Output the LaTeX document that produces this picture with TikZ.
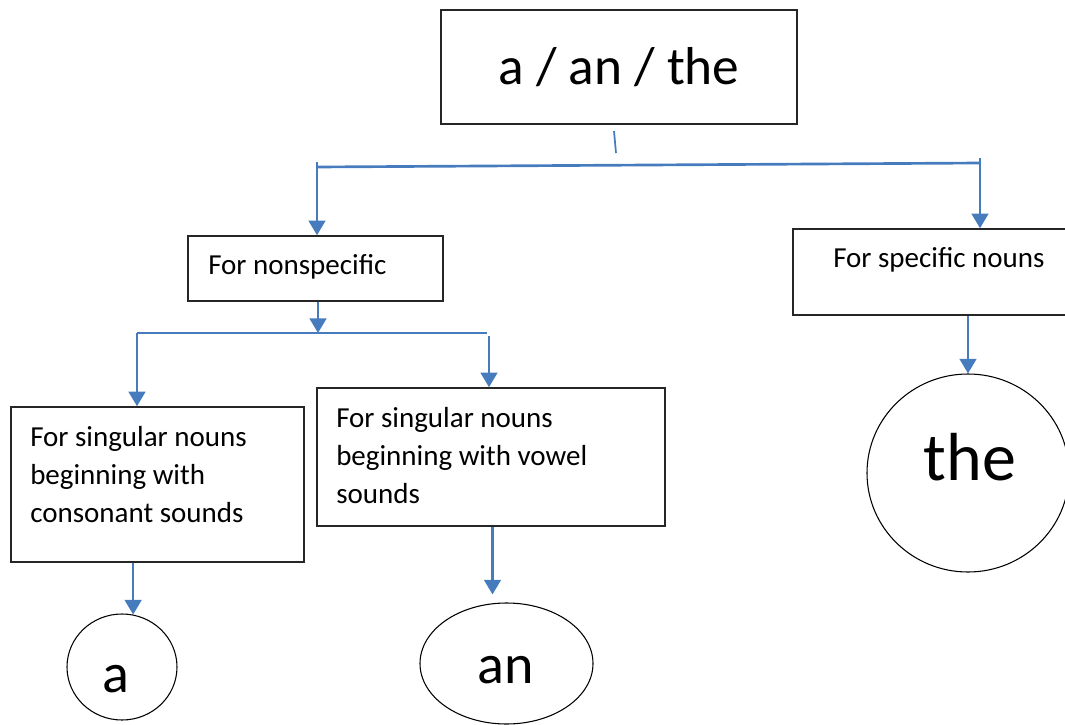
\documentclass[tikz,border=0pt]{standalone}
\usepackage{fontspec}
\setmainfont{Carlito}
\usetikzlibrary{arrows.meta,shapes.geometric,calc}
\definecolor{arrowblue}{RGB}{70,124,190}
\begin{document}
\begin{tikzpicture}[x=0.75pt,y=-0.75pt,
  box/.style={draw=black!85, line width=1.1pt, rectangle, inner sep=0pt},
  oval/.style={draw=black, line width=0.8pt, ellipse, inner sep=0pt},
  arr/.style={draw=arrowblue, line width=2pt, -{Triangle[width=12.5pt,length=11pt]}},
  ln/.style={draw=arrowblue, line width=2pt},
  body/.style={font=\fontsize{21.75pt}{28.5pt}\selectfont, inner sep=0pt, align=left},
]
\useasboundingbox (0,0) rectangle (1065,725);
\clip (0,0) rectangle (1065,725);

% boxes
\node[box, minimum width=356*0.75pt, minimum height=114*0.75pt] (top) at (619,67) {};
\node[font=\fontsize{40pt}{48pt}\selectfont, anchor=base, inner sep=0pt] (toptext) at (619,84) {a / an / the};

\node[box, minimum width=255*0.75pt, minimum height=65*0.75pt] (ns) at (315.5,268.5) {};
\node[body, anchor=base west] (nstext) at (208,274) {For nonspecific};

\node[box, minimum width=297*0.75pt, minimum height=86*0.75pt] (sp) at (941.5,272) {};
\node[body, anchor=base west] (sptext) at (833,267) {For specific nouns};

\node[box, minimum width=293*0.75pt, minimum height=155*0.75pt] (lb) at (157.5,484.5) {};
\node[body, anchor=north west] (lbtext) at (30,419.3) {\rule{0pt}{20pt}For singular nouns\\beginning with\\consonant sounds};

\node[box, minimum width=348*0.75pt, minimum height=138*0.75pt] (mb) at (491,457) {};
\node[body, anchor=north west] (mbtext) at (336,400.3) {\rule{0pt}{20pt}For singular nouns\\beginning with vowel\\sounds};

% ovals
\node[oval, minimum width=110*0.75pt, minimum height=106*0.75pt] (ea) at (122,667) {};
\node[font=\fontsize{42pt}{50pt}\selectfont, anchor=base, inner sep=0pt] (eatext) at (116,692) {a};

\node[oval, minimum width=173*0.75pt, minimum height=121*0.75pt] (ean) at (506.5,663.5) {};
\node[font=\fontsize{42pt}{50pt}\selectfont, anchor=base, inner sep=0pt] (eantext) at (505.5,683) {an};

\node[oval, minimum width=202*0.75pt, minimum height=198*0.75pt] (the) at (968,473) {};
\node[font=\fontsize{51pt}{60pt}\selectfont, anchor=base, inner sep=0pt] (thetext) at (970,480) {the};

% connectors
\coordinate (s1) at (614,131);
\coordinate (s2) at (616,153);
\draw[ln, line width=1.3pt] (s1) -- (s2);

\coordinate (jL) at (317,167);
\coordinate (jR) at (980,163);
\coordinate (jLt) at (317,162);
\coordinate (jRt) at (980,158);
\draw[ln] (jL) -- (jR);
\draw[arr] (jLt) -- (jLt |- ns.north);
\draw[arr] (jRt) -- (jRt |- sp.north);

\coordinate (j2) at (318,333);
\coordinate (j2L) at (137,333);
\coordinate (j2R) at (487,333);
\coordinate (j2Rt) at (489,336);
\draw[arr] (ns.south -| j2) -- (j2);
\draw[ln] (j2L) -- (j2R);
\draw[arr] (j2L) -- (j2L |- lb.north);
\draw[arr] (j2Rt) -- (j2Rt |- mb.north);

\draw[arr] (lb.south -| ea.78) -- (ea.78);
\coordinate (anTip) at ($(ean.north)+(-14,-8)$);
\draw[arr] (mb.south -| anTip) -- (anTip);
\draw[arr] (sp.south -| the.north) -- (the.north);
\end{tikzpicture}
\end{document}
